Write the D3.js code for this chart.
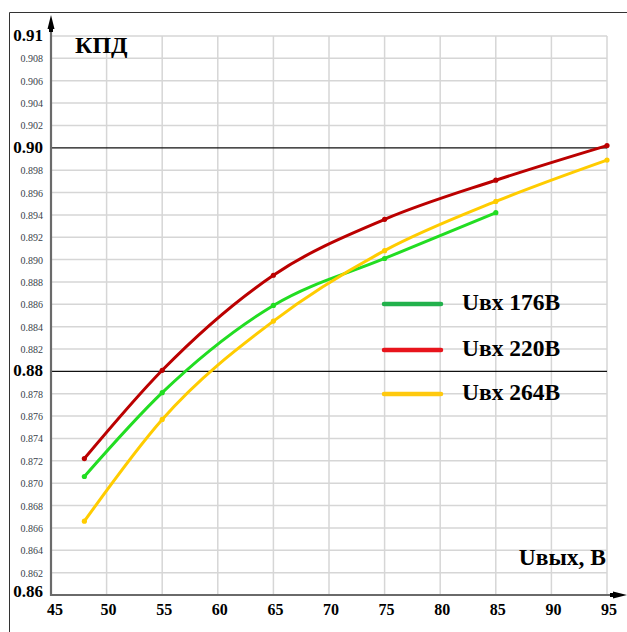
<!DOCTYPE html>
<html><head><meta charset="utf-8">
<script src="https://cdn.jsdelivr.net/npm/d3@7"></script>
<style>
body{margin:0;background:#fff}
svg text{font-family:"Liberation Serif","Times New Roman","DejaVu Serif",serif;}
</style>
</head><body>
<script>
const xValues = [48, 55, 65, 75, 85, 95];
const seriesNames = ["Uвх 176В", "Uвх 220В", "Uвх 264В"];
const green = [0.8706, 0.8781, 0.8859, 0.8901, 0.8942];
const red = [0.8722, 0.8801, 0.8886, 0.8936, 0.8971, 0.9002];
const yellow = [0.8666, 0.8757, 0.8845, 0.8908, 0.8952, 0.8989];
const xTicks = [45, 50, 55, 60, 65, 70, 75, 80, 85, 90, 95];
const yMajor = [0.86, 0.88, 0.90, 0.91];
const yMajorLabels = ["0.86", "0.88", "0.90", "0.91"];
const yMinor = [0.862,0.864,0.866,0.868,0.870,0.872,0.874,0.876,0.878,0.882,0.884,0.886,0.888,0.890,0.892,0.894,0.896,0.898,0.902,0.904,0.906,0.908];

const W = 627, H = 632;
const svg = d3.select("body").append("svg").attr("width", W).attr("height", H);
const x = d3.scaleLinear().domain([45, 95]).range([51, 607]);
const y = d3.scaleLinear().domain([0.86, 0.91]).range([595, 36]);

// frame
svg.append("path").attr("d", `M9.5,${H} L9.5,12.5 L${W},12.5`).attr("fill","none").attr("stroke","#333").attr("stroke-width",1);

// grid
const g = svg.append("g");
g.selectAll(".vg").data(xTicks.slice(1)).join("line")
  .attr("x1", d=>x(d)).attr("x2", d=>x(d)).attr("y1", y(0.91)).attr("y2", y(0.86))
  .attr("stroke", "#d6d6d6").attr("stroke-width", 1.5);
g.selectAll(".hg").data(yMinor.concat([0.91])).join("line")
  .attr("x1", x(45)).attr("x2", x(95)).attr("y1", d=>y(d)).attr("y2", d=>y(d))
  .attr("stroke", "#d6d6d6").attr("stroke-width", 1.5);
g.selectAll(".hm").data([0.88, 0.90]).join("line")
  .attr("x1", x(45)).attr("x2", x(95)).attr("y1", d=>y(d)).attr("y2", d=>y(d))
  .attr("stroke", "#111").attr("stroke-width", 1.2);

// axes
svg.append("line").attr("x1", x(45)).attr("x2", x(45)).attr("y1", 28).attr("y2", y(0.86)+1)
  .attr("stroke", "#6a6a6a").attr("stroke-width", 2.2);
svg.append("line").attr("x1", x(45)).attr("x2", 616).attr("y1", y(0.86)).attr("y2", y(0.86))
  .attr("stroke", "#6a6a6a").attr("stroke-width", 2.2);
svg.append("path").attr("d", `M${x(45)},15 L${x(45)-3.5},29 L${x(45)+3.5},29 Z`).attr("fill","#000");
svg.append("rect").attr("x", x(45)-2).attr("y", 26).attr("width", 4).attr("height", 6).attr("fill","#000");
svg.append("path").attr("d", `M627,${y(0.86)} L613,${y(0.86)-3.5} L613,${y(0.86)+3.5} Z`).attr("fill","#000");
svg.append("rect").attr("x", 610).attr("y", y(0.86)-2).attr("width", 6).attr("height", 4).attr("fill","#000");

// y labels
svg.selectAll(".ymin").data(yMinor).join("text")
  .attr("x", 43).attr("y", d=>y(d)+4).attr("text-anchor","end")
  .attr("font-size", 10).attr("fill", "#3a3f4a")
  .text(d=>d.toFixed(3));
svg.selectAll(".ymaj").data(yMajor).join("text")
  .attr("x", 43).attr("y", (d)=>y(d)+ (d===0.86? 2 : 5)).attr("text-anchor","end")
  .attr("font-size", 17).attr("font-weight","bold").attr("fill", "#000")
  .text((d,i)=>yMajorLabels[i]);

// x labels
svg.selectAll(".xl").data(xTicks).join("text")
  .attr("x", d=>x(d)+ (d===45? 4 : 2)).attr("y", 615).attr("text-anchor","middle")
  .attr("font-size", 16).attr("font-weight","bold").attr("fill", "#000")
  .text(d=>d);

// titles
svg.append("text").attr("x", 75).attr("y", 53).attr("font-size", 24)
  .attr("font-weight","bold").text("КПД");
svg.append("text").attr("x", 606).attr("y", 565).attr("text-anchor","end").attr("font-size", 23.5)
  .attr("font-weight","bold").text("Uвых, В");

// curves
const series = [
  {vals: green, color: "#22dd22"},
  {vals: red, color: "#bb0000"},
  {vals: yellow, color: "#ffcc00"}
];
const line = d3.line().x(d=>x(d[0])).y(d=>y(d[1])).curve(d3.curveMonotoneX);
series.forEach(s => {
  const pts = s.vals.map((v,i)=>[xValues[i], v]);
  svg.append("path").attr("d", line(pts)).attr("fill","none").attr("stroke", s.color).attr("stroke-width", 3);
  svg.selectAll(null).data(pts).join("circle").attr("cx", d=>x(d[0])).attr("cy", d=>y(d[1])).attr("r", 2.6).attr("fill", s.color);
});

// legend
const legendColors = ["#22b14c", "#e8141c", "#ffc90e"];
const legY = [304, 350, 394];
seriesNames.forEach((n,i) => {
  svg.append("line").attr("x1", 384).attr("x2", 441).attr("y1", legY[i]).attr("y2", legY[i])
    .attr("stroke", legendColors[i]).attr("stroke-width", 4.5).attr("stroke-linecap","round");
  svg.append("text").attr("x", 462).attr("y", legY[i]+6).attr("font-size", 23.5)
    .attr("font-weight","bold").text(n);
});
</script>
</body></html>
